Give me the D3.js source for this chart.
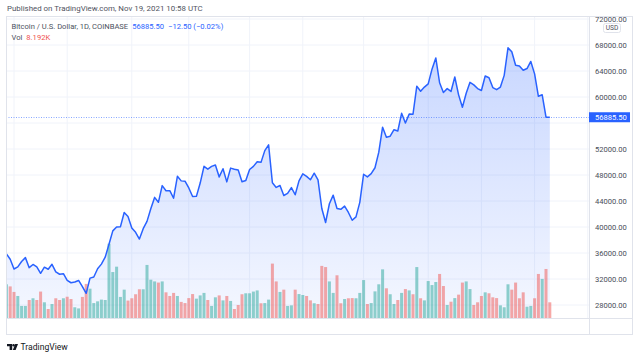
<!DOCTYPE html>
<html><head><meta charset="utf-8">
<script src="https://cdn.jsdelivr.net/npm/d3@7"></script>
<style>
html,body{margin:0;padding:0;background:#fff;overflow:hidden;}
svg{display:block;font-family:Roboto,"Noto Sans",sans-serif;}
</style></head><body>
<svg id="c" width="640" height="358"></svg>
<script>
// ---- Data (BTC/USD daily closes, Coinbase) ----
const closeJun = [35867, 35040];
const closeJul = [33537, 33856, 34688, 35287, 33746, 34235, 33855, 32877, 33815, 33502, 34259, 33086, 32730, 32820, 31780, 31421, 31533, 31778, 30839, 29796, 32138, 32305, 33581, 34292, 35350, 37337, 39406, 39995, 40027, 42236, 41626];
const closeAug = [39846, 39175, 38152, 39747, 40870, 42816, 44555, 43798, 46365, 45585, 45593, 44428, 47793, 47096, 47047, 46004, 44695, 44715, 46760, 49339, 48905, 49321, 49546, 47706, 48960, 46942, 49058, 48897, 48767, 46970, 47166];
const closeSep = [48847, 49328, 50025, 49944, 51753, 52633, 46811, 46091, 46391, 44843, 45161, 46063, 44963, 47092, 48176, 47784, 47268, 48278, 47260, 42843, 40694, 43574, 44896, 42840, 42717, 43208, 42236, 41034, 41564, 43791];
const closeOct = [48116, 47711, 48200, 49113, 51515, 55361, 53805, 53967, 54968, 54772, 57485, 56005, 57367, 57347, 61672, 60875, 61528, 62010, 64280, 66002, 62193, 60688, 61286, 60852, 63078, 60328, 58413, 60575, 62253, 61859, 61300];
const closeNov = [61004, 63226, 62970, 61452, 61125, 61528, 63327, 67566, 66971, 64882, 64774, 64122, 64381, 65466, 63557, 60107, 60345, 56892, 56885.5];

// volume in thousands of BTC
const volJun = [17.6, 16.5];
const volJul = [13.6, 11.5, 6.3, 6.3, 9.4, 10.3, 9.4, 13.8, 8.2, 4.7, 7.3, 10.3, 9.4, 10.3, 11.1, 9.9, 5.6, 5.0, 11.0, 17.8, 15.3, 7.8, 8.7, 9.6, 9.4, 38.8, 24.0, 26.8, 11.0, 14.8, 9.1];
const volAug = [10.3, 12.4, 15.0, 15.0, 27.7, 20.0, 19.1, 18.5, 19.1, 13.4, 11.5, 13.1, 11.5, 8.4, 7.8, 10.4, 12.5, 10.1, 11.8, 13.1, 9.4, 6.3, 10.8, 11.8, 9.2, 11.5, 8.9, 4.7, 6.8, 12.4, 12.9];
const volSep = [12.9, 13.8, 14.4, 7.7, 7.8, 9.6, 28.4, 19.1, 13.6, 14.8, 6.3, 6.6, 14.8, 12.5, 12.0, 11.5, 9.2, 7.7, 7.3, 27.2, 26.6, 19.1, 13.1, 22.3, 7.7, 9.9, 10.3, 10.4, 10.3, 13.1];
const volOct = [19.8, 7.3, 7.8, 13.9, 17.6, 25.4, 15.5, 12.4, 7.3, 9.4, 13.1, 15.1, 14.4, 12.4, 26.6, 10.3, 9.2, 19.3, 17.2, 18.8, 23.0, 16.7, 6.8, 8.5, 10.4, 12.2, 18.5, 19.1, 15.1, 6.8, 8.2];
const volNov = [11.5, 13.4, 12.9, 10.8, 10.4, 6.6, 5.6, 17.6, 14.8, 18.5, 10.3, 13.4, 5.9, 6.3, 10.3, 23.0, 20.4, 25.6, 8.192];

// candle direction (u = up, d = down) used to color volume bars
const dirJun = "ud";
const dirJul = "duuud" + "uddud" + "uddud" + "duudd" + "uuuuu" + "uuuuu" + "d";
const dirAug = "ddduu" + "uudud" + "ddudd" + "dduuu" + "duudu" + "duddd" + "u";
const dirSep = "uuudu" + "uddud" + "uuduu" + "ddudd" + "duudd" + "udduu";
const dirOct = "uduuu" + "uduud" + "ududu" + "duuuu" + "ddudu" + "dduud" + "d";
const dirNov = "duddd" + "uuudd" + "dduud" + "dudd";

const priceTicks = [28000, 32000, 36000, 40000, 44000, 48000, 52000, 56000, 60000, 64000, 68000, 72000];
const timeTickDates = ["2021-07-01", "2021-07-15", "2021-08-01", "2021-08-16", "2021-09-01", "2021-09-15", "2021-10-01", "2021-10-18", "2021-11-01", "2021-11-15", "2021-11-29"];
const timeTickLabels = ["Jul", "15", "Aug", "16", "Sep", "15", "Oct", "18", "Nov", "15", "29"];
const lastPrice = 56885.50;

const closes = [].concat(closeJun, closeJul, closeAug, closeSep, closeOct, closeNov);
const volumes = [].concat(volJun, volJul, volAug, volSep, volOct, volNov);
const dirs = (dirJun + dirJul + dirAug + dirSep + dirOct + dirNov).split("");
const start = new Date(Date.UTC(2021, 5, 29));
const days = d3.utcDay.range(start, d3.utcDay.offset(start, closes.length));
const data = days.map((d, i) => ({date: d, close: closes[i], vol: volumes[i], dir: dirs[i]}));

// ---- Layout ----
const paneL = 6, paneT = 16, paneR = 589, paneB = 318, axisB = 335, outerR = 633;
const svg = d3.select("#c");
const FONT = 7.6;

const x = d3.scaleUtc()
  .domain([new Date(Date.UTC(2021, 6, 1)), new Date(Date.UTC(2021, 10, 29))])
  .range([14, 587.8]);
const y = d3.scaleLinear().domain([28000, 72000]).range([305, 19]);
const yv = d3.scaleLinear().domain([0, 40]).range([paneB, paneB - 76.6]);

const defs = svg.append("defs");
defs.append("clipPath").attr("id", "pane")
  .append("rect").attr("x", paneL).attr("y", paneT).attr("width", paneR - paneL).attr("height", paneB - paneT);
defs.append("clipPath").attr("id", "taxis")
  .append("rect").attr("x", paneL).attr("y", paneB).attr("width", paneR - paneL).attr("height", axisB - paneB);
defs.append("clipPath").attr("id", "below")
  .append("rect").attr("x", paneR).attr("y", y(lastPrice) + 5).attr("width", outerR - paneR).attr("height", 20);
const grad = defs.append("linearGradient").attr("id", "fillg")
  .attr("gradientUnits", "userSpaceOnUse").attr("x1", 0).attr("x2", 0).attr("y1", paneT).attr("y2", paneB);
grad.append("stop").attr("offset", 0).attr("stop-color", "rgb(41,98,255)").attr("stop-opacity", 0.28);
grad.append("stop").attr("offset", 1).attr("stop-color", "rgb(41,98,255)").attr("stop-opacity", 0.05);

// header
svg.append("text").attr("x", 7).attr("y", 11.3).attr("font-size", 7.9).attr("fill", "#50535e")
  .text("Published on TradingView.com, Nov 19, 2021 10:58 UTC");

// grid
const pane = svg.append("g").attr("clip-path", "url(#pane)");
pane.selectAll("line.hg").data(priceTicks).join("line").attr("class", "hg")
  .attr("x1", paneL).attr("x2", paneR).attr("y1", d => y(d)).attr("y2", d => y(d))
  .attr("stroke", "#f0f3fa").attr("stroke-width", 1);
const tickDates = timeTickDates.map(s => new Date(s + "T00:00:00Z"));
pane.selectAll("line.vg").data(tickDates).join("line").attr("class", "vg")
  .attr("x1", d => x(d)).attr("x2", d => x(d)).attr("y1", paneT).attr("y2", paneB)
  .attr("stroke", "#f0f3fa").attr("stroke-width", 1);

// area
pane.append("path").datum(data)
  .attr("d", d3.area().x(d => x(d.date)).y0(paneB).y1(d => y(d.close)))
  .attr("fill", "url(#fillg)");

// volume bars
pane.selectAll("rect.v").data(data).join("rect").attr("class", "v")
  .attr("x", d => x(d.date) - 1.5).attr("width", 3)
  .attr("y", d => yv(d.vol)).attr("height", d => paneB - yv(d.vol))
  .attr("fill", d => d.dir === "u" ? "rgba(38,166,154,0.5)" : "rgba(239,83,80,0.5)");

// line
pane.append("path").datum(data)
  .attr("d", d3.line().x(d => x(d.date)).y(d => y(d.close)))
  .attr("fill", "none").attr("stroke", "#2962ff").attr("stroke-width", 1.5).attr("stroke-linejoin", "round");

// last price dotted line
svg.append("line").attr("x1", paneL).attr("x2", paneR).attr("y1", Math.round(y(lastPrice)) + 0.5).attr("y2", Math.round(y(lastPrice)) + 0.5)
  .attr("stroke", "#2962ff").attr("stroke-width", 1).attr("stroke-dasharray", "1,1.5").attr("opacity", 0.55);

// frame
svg.append("rect").attr("x", paneL + 0.5).attr("y", paneT + 0.5).attr("width", outerR - paneL - 1).attr("height", axisB - paneT - 1)
  .attr("fill", "none").attr("stroke", "#e0e3eb");
svg.append("line").attr("x1", paneR + 0.5).attr("x2", paneR + 0.5).attr("y1", paneT).attr("y2", axisB).attr("stroke", "#e0e3eb");
svg.append("line").attr("x1", paneL).attr("x2", outerR).attr("y1", paneB + 0.5).attr("y2", paneB + 0.5).attr("stroke", "#e0e3eb");

// price axis
const ya = svg.append("g").attr("transform", `translate(${paneR},0)`)
  .call(d3.axisRight(y).tickValues(priceTicks).tickFormat(d3.format(".2f")).tickSize(0).tickPadding(6));
ya.select(".domain").remove();
ya.selectAll("text").attr("font-size", FONT).attr("font-family", "Roboto,'Noto Sans',sans-serif").attr("fill", "#4a4e59").attr("dy", "0.32em");
// the 56000 label peeks out from under the last-price tag
ya.selectAll(".tick").filter(d => d === 56000).attr("clip-path", "url(#below)")
  .select("text").attr("transform", `translate(0,${-y(56000)})`).attr("y", y(56000));

// USD badge
svg.append("rect").attr("x", 603.5).attr("y", 23.5).attr("width", 17).attr("height", 9).attr("rx", 2)
  .attr("fill", "#fff").attr("stroke", "#e0e3eb");
svg.append("text").attr("x", 612).attr("y", 30.3).attr("text-anchor", "middle").attr("font-size", 6.6).attr("fill", "#4a4e59").text("USD");

// last price label
const ly = y(lastPrice);
svg.append("rect").attr("x", paneR).attr("y", ly - 5).attr("width", 41).attr("height", 10).attr("fill", "#2962ff");
svg.append("text").attr("x", 595).attr("y", ly).attr("dy", "0.34em").attr("font-size", FONT).attr("fill", "#fff")
  .text(d3.format(".2f")(lastPrice));

// time axis
const xa = svg.append("g").attr("transform", `translate(0,${paneB})`).attr("clip-path", "url(#taxis)")
  .call(d3.axisBottom(x).tickValues(tickDates).tickFormat((d, i) => timeTickLabels[i]).tickSize(0).tickPadding(5));
xa.select(".domain").remove();
xa.selectAll("text").attr("font-size", FONT).attr("font-family", "Roboto,'Noto Sans',sans-serif").attr("fill", "#4a4e59");

// legend
const lg = svg.append("text").attr("x", 11.5).attr("y", 28.8).attr("font-size", FONT).attr("fill", "#4c525e");
lg.append("tspan").text("Bitcoin / U.S. Dollar, 1D, COINBASE");
lg.append("tspan").attr("dx", 4).attr("fill", "#2962ff").text("56885.50");
lg.append("tspan").attr("dx", 4).attr("fill", "#2962ff").text("\u221212.50 (\u22120.02%)");
const lg2 = svg.append("text").attr("x", 11.5).attr("y", 39.6).attr("font-size", FONT).attr("fill", "#4c525e");
lg2.append("tspan").text("Vol");
lg2.append("tspan").attr("dx", 4).attr("fill", "#ef5350").text("8.192K");

// TradingView logo
const logo = svg.append("g").attr("fill", "#131722");
logo.append("path").attr("d", "M7,344 h5.2 v6 h-2.6 v-3.8 h-2.6 z");
logo.append("circle").attr("cx", 13.6).attr("cy", 345.2).attr("r", 1.2);
logo.append("path").attr("d", "M15.2,344 h2.8 l-2.4,6 h-2.8 z");
svg.append("text").attr("x", 20.5).attr("y", 350.2).attr("font-size", 8.6).attr("fill", "#131722").text("TradingView");
</script>
</body></html>
